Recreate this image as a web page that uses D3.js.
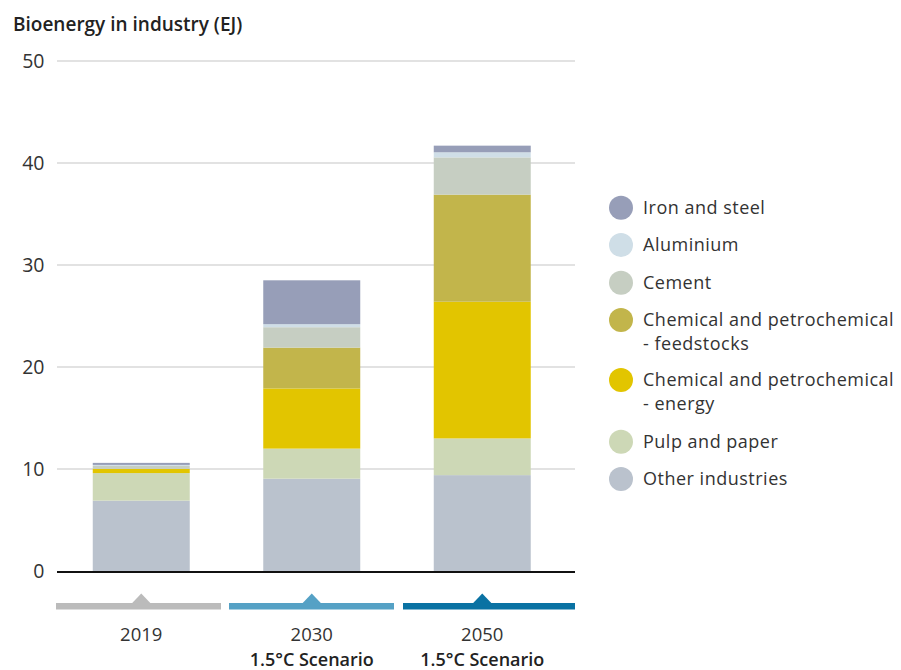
<!DOCTYPE html>
<html><head><meta charset="utf-8">
<script src="https://cdn.jsdelivr.net/npm/d3@7"></script>
<style>body{margin:0;background:#fff}svg{display:block}text{font-family:"Open Sans",sans-serif}</style>
</head><body><svg id="c" width="901" height="670"></svg>
<script>
const years = ["2019", "2030", "2050"];
const yearSub = ["", "1.5°C Scenario", "1.5°C Scenario"];
const sectors = ["Other industries", "Pulp and paper", "Chemical and petrochemical - energy", "Chemical and petrochemical - feedstocks", "Cement", "Aluminium", "Iron and steel"];
const otherInd   = [6.9, 9.05, 9.4];
const pulpPaper  = [2.7, 2.95, 3.6];
const chemEnergy = [0.4, 5.9, 13.4];
const chemFeed   = [0.0, 4.0, 10.5];
const cement     = [0.3, 2.0, 3.65];
const aluminium  = [0.1, 0.3, 0.5];
const ironSteel  = [0.2, 4.3, 0.65];
const yTicks = [0, 10, 20, 30, 40, 50];
const legendOrder = ["Iron and steel", "Aluminium", "Cement", "Chemical and petrochemical - feedstocks", "Chemical and petrochemical - energy", "Pulp and paper", "Other industries"];
const colors = ["#bac2cd", "#cdd8b6", "#e2c500", "#c2b54b", "#c6cec2", "#cfdee7", "#979eb8"];
const yearColors = ["#bbbbbb", "#55a1c5", "#0a72a3"];

const seriesVals = [otherInd, pulpPaper, chemEnergy, chemFeed, cement, aluminium, ironSteel];
const rows = years.map((y, i) => {
  const r = {year: y};
  sectors.forEach((s, k) => r[s] = seriesVals[k][i]);
  return r;
});
const stack = d3.stack().keys(sectors)(rows);
const color = d3.scaleOrdinal().domain(sectors).range(colors);

const svg = d3.select("#c");
const x = d3.scaleBand().domain(years).range([56, 567.5]).paddingInner(0.0).paddingOuter(0.0);
const y = d3.scaleLinear().domain([0, 50]).range([571, 61]);
const bw = 97;

// gridlines
svg.append("g").selectAll("line").data(yTicks.filter(t => t > 0)).join("line")
  .attr("x1", 57).attr("x2", 575).attr("y1", d => y(d)).attr("y2", d => y(d))
  .attr("stroke", "#d9d9d9").attr("stroke-width", 1.5);
svg.append("g").selectAll("text").data(yTicks).join("text")
  .attr("x", 44.5).attr("y", d => y(d)).attr("dy", "0.35em").attr("text-anchor", "end")
  .attr("font-size", 19.5).attr("fill", "#333").text(d => d);

// bars
svg.append("g").selectAll("g").data(stack).join("g").attr("fill", d => color(d.key))
  .selectAll("rect").data(d => d).join("rect")
  .attr("x", d => x(d.data.year) + x.bandwidth() / 2 - bw / 2)
  .attr("width", bw)
  .attr("y", d => y(d[1]))
  .attr("height", d => Math.max(0, y(d[0]) - y(d[1])));

// baseline
svg.append("line").attr("x1", 57).attr("x2", 575).attr("y1", y(0) + 1).attr("y2", y(0) + 1)
  .attr("stroke", "#111").attr("stroke-width", 2.2);

// year markers
const segs = [[56, 221], [229, 394], [403, 575]];
years.forEach((yr, i) => {
  const cx = x(yr) + x.bandwidth() / 2;
  const g = svg.append("g").attr("fill", yearColors[i]);
  g.append("rect").attr("x", segs[i][0]).attr("width", segs[i][1] - segs[i][0]).attr("y", 603).attr("height", 6.5);
  g.append("path").attr("d", `M${cx - 10},604 L${cx},593.5 L${cx + 10},604 Z`);
  svg.append("text").attr("x", cx).attr("y", 641).attr("text-anchor", "middle")
    .attr("font-size", 18.5).attr("fill", "#333").text(yr);
  if (yearSub[i]) svg.append("text").attr("x", cx).attr("y", 666).attr("text-anchor", "middle")
    .attr("font-size", 18).attr("font-weight", 600).attr("fill", "#222").text(yearSub[i]);
});

// title
svg.append("text").attr("x", 13).attr("y", 31).attr("font-size", 19).attr("font-weight", 600)
  .attr("fill", "#222").text("Bioenergy in industry (EJ)");

// legend
const legY = [207.7, 245, 282.7, 320, 380, 441.7, 479];
const lg = svg.append("g");
legendOrder.forEach((s, i) => {
  lg.append("circle").attr("cx", 621).attr("cy", legY[i]).attr("r", 12).attr("fill", color(s));
  const parts = s.includes(" - ") ? [s.split(" - ")[0], "- " + s.split(" - ")[1]] : [s];
  const off = parts.length > 1 ? -0.8 : 0;
  parts.forEach((p, j) => lg.append("text").attr("x", 643).attr("y", legY[i] + off + j * 24.8)
    .attr("dy", "0.35em").attr("font-size", 18).attr("letter-spacing", 0.5)
    .attr("fill", "#333").text(p));
});
</script></body></html>
